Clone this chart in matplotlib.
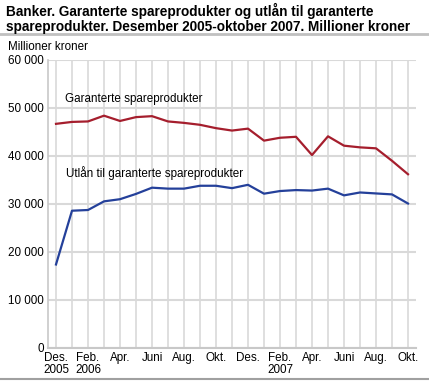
import matplotlib.pyplot as plt
import numpy as np

plt.rcParams['font.family'] = ['Liberation Sans', 'DejaVu Sans']

# Desember 2005 - oktober 2007, en verdi per maaned
garanterte = [46700, 47100, 47200, 48400, 47300, 48100, 48300, 47200, 46900, 46500,
              45800, 45300, 45700, 43200, 43800, 44000, 40200, 44100, 42150, 41800,
              41600, 39000, 36200]
utlan = [17400, 28600, 28750, 30550, 31000, 32100, 33400, 33200, 33200, 33800,
         33800, 33300, 34000, 32150, 32700, 32900, 32800, 33200, 31800, 32400,
         32200, 32000, 30100]
xlabels = ['Des.\n2005', 'Feb.\n2006', 'Apr.', 'Juni', 'Aug.', 'Okt.',
           'Des.', 'Feb.\n2007', 'Apr.', 'Juni', 'Aug.', 'Okt.']
yticks = [0, 10000, 20000, 30000, 40000, 50000, 60000]

x = np.arange(len(garanterte))

fig = plt.figure(figsize=(4.29, 3.82), dpi=100)
ax = fig.add_axes([48/429, 1 - 348/382, 368/429, 288/382])

grid_col = '#d9d9d9'
for xi in x:
    ax.axvline(xi, color=grid_col, lw=1.2, zorder=1)
for yv in yticks:
    ax.axhline(yv, color=grid_col, lw=1.5, zorder=1)

ax.plot(x, garanterte, color='#a51e2d', lw=1.6, zorder=3)
ax.plot(x, utlan, color='#24409a', lw=1.6, zorder=3)

ax.set_xlim(-0.5, len(x) - 0.5)
ax.set_ylim(0, 60000)
ax.set_xticks(x[::2])
ax.set_xticklabels(xlabels, fontsize=8.4, linespacing=0.95)
ax.set_yticks(yticks)
ax.set_yticklabels([f'{v:,}'.replace(',', ' ') for v in yticks], fontsize=8.4)
ax.tick_params(length=0, pad=3)

for s in ['top', 'right']:
    ax.spines[s].set_visible(False)
ax.spines['left'].set_color('#c8c8c8')
ax.spines['bottom'].set_color('#c8c8c8')
ax.spines['left'].set_linewidth(1.2)
ax.spines['bottom'].set_linewidth(1.5)

ax.text(0.55, 50700, 'Garanterte spareprodukter', fontsize=8.4, va='bottom', zorder=4)
ax.text(0.6, 35000, 'Utlån til garanterte spareprodukter', fontsize=8.4, va='bottom', zorder=4)

fig.text(6/429, 1 - 3/382, 'Banker. Garanterte spareprodukter og utlån til garanterte\nspareprodukter. Desember 2005-oktober 2007. Millioner kroner',
         fontsize=9.8, fontweight='bold', va='top', ha='left', linespacing=1.1)
fig.text(8/429, 1 - 47/382, 'Millioner kroner', fontsize=8.4, va='center', ha='left')

fig.add_artist(plt.Line2D([0, 1], [1 - 34/382, 1 - 34/382], color='#c0c0c0', lw=2, transform=fig.transFigure))
fig.add_artist(plt.Line2D([0, 1], [1 - 379/382, 1 - 379/382], color='#a0a0a0', lw=1.5, transform=fig.transFigure))

fig.savefig('out.png', dpi=100)
